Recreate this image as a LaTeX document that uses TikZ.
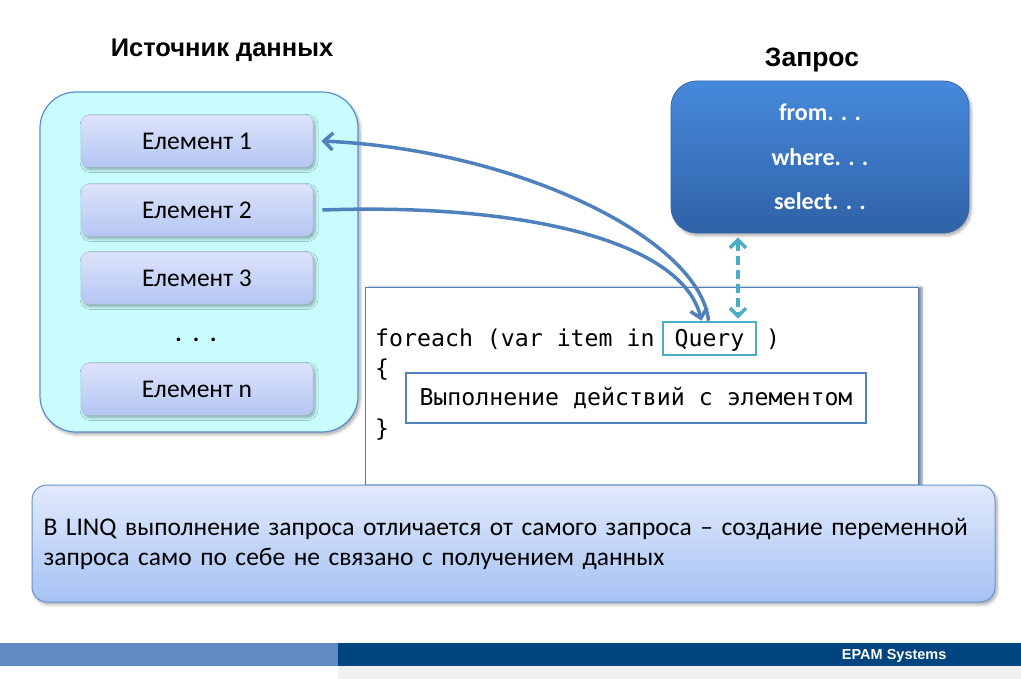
\documentclass[tikz,border=0pt]{standalone}
\usepackage{fontspec}
\setmainfont{Carlito}
\setmonofont{DejaVu Sans Mono}
\newfontfamily\headfont{Liberation Sans}
\usetikzlibrary{arrows.meta,shadows.blur}

\definecolor{srcfill}{HTML}{C9FCFC}
\definecolor{srcedge}{HTML}{5B8FCC}
\definecolor{elemtop}{HTML}{DDE4FB}
\definecolor{elembot}{HTML}{B4C6F3}
\definecolor{elemedge}{HTML}{B9C6EA}
\definecolor{qtop}{HTML}{4789DC}
\definecolor{qbot}{HTML}{2F62A7}
\definecolor{qedge}{HTML}{3567AA}
\definecolor{notetop}{HTML}{E2EAFC}
\definecolor{notebot}{HTML}{A6C2F4}
\definecolor{noteedge}{HTML}{6693D1}
\definecolor{linkblue}{HTML}{4F81BD}
\definecolor{linkteal}{HTML}{4BACC6}
\definecolor{barlight}{HTML}{6289C1}
\definecolor{bardark}{HTML}{00457F}
\definecolor{barstrip}{HTML}{F0F0F0}

\begin{document}
\begin{tikzpicture}[x=1pt,y=-1pt,
  softshadow/.style={blur shadow={shadow xshift=2pt,shadow yshift=-2.5pt,
      shadow blur radius=3pt,shadow blur steps=6,shadow opacity=35}},
  heading/.style={font=\headfont\bfseries\fontsize{25.5}{30}\selectfont},
  elem/.style={rounded corners=8pt,minimum width=232pt,minimum height=52pt,
      top color=elemtop,bottom color=elembot,draw=elemedge,line width=0.6pt,
      font=\fontsize{25.5}{28}\selectfont,softshadow},
  codetext/.style={inner sep=0pt,font=\ttfamily\fontsize{23.2}{27}\selectfont},
  link/.style={draw=linkblue,line width=3.5pt,
      -{Straight Barb[length=9pt,width=17pt]}},
]
\useasboundingbox (0,0) rectangle (1021,679);

% data source
\node[heading] (srctitle) at (222,50) {Источник данных};
\node[rounded corners=36pt,minimum width=318pt,minimum height=340pt,
      fill=srcfill,draw=srcedge,line width=1.2pt,softshadow] (src) at (199,262) {};
\node[elem] (el1) at (197,141) {Елемент 1};
\node[elem] (el2) at (197,210) {Елемент 2};
\node[elem] (el3) at (197,278) {Елемент 3};
\node[font=\bfseries\fontsize{24}{26}\selectfont] (dots) at (196,340) {.\hspace{11pt}.\hspace{11pt}.};
\node[elem] (eln) at (197,389) {Елемент n};

% query
\node[font=\headfont\bfseries\fontsize{26.5}{30}\selectfont] (qtitle) at (812,60) {Запрос};
\node[rounded corners=26pt,minimum width=298pt,minimum height=152pt,
      top color=qtop,bottom color=qbot,draw=qedge,line width=0.8pt,softshadow,
      text=white,align=center,font=\bfseries\fontsize{24}{44.5}\selectfont]
      (qry) at (820,157) {from. . .\\where. . .\\select. . .};

% code listing
\node[minimum width=553pt,minimum height=215pt,fill=white,draw=linkblue,
      line width=0.8pt,
      blur shadow={shadow xshift=4pt,shadow yshift=0pt,shadow blur radius=2pt,
      shadow blur steps=5,shadow opacity=45}] (code) at (641.5,394.5) {};
\node[codetext,anchor=base west] (line1) at (375,346) {foreach (var item in};
\node[codetext,draw=linkteal,line width=2.6pt,minimum width=93pt,
      inner ysep=3.3pt,text height=20.7pt,text depth=5.7pt,anchor=base]
      (qbox) at (709.5,346) {Query};
\node[codetext,anchor=base west] (close) at (766,346) {)};
\node[codetext] (lbrace) at (382,370) {\{};
\node[codetext] (rbrace) at (382,430) {\}};
\node[codetext,draw=linkblue,line width=2.6pt,minimum width=460pt,
      minimum height=50pt,fill=white] (act) at (636,398) {Выполнение действий с элементом};

% links between the parts
\draw[link] ([xshift=-1pt]qbox.north) .. controls (700,240) and (520,150) .. ([xshift=8pt]el1.east);
\draw[link] ([xshift=9pt]el2.east) .. controls (520,203) and (682,240) .. ([xshift=-8pt]qbox.north);
\draw[draw=linkteal,line width=3.5pt,dash pattern=on 9pt off 5pt,
      {Straight Barb[length=8pt,width=16pt]}-{Straight Barb[length=8pt,width=16pt]},
      shorten <=4pt,shorten >=2pt]
      ([xshift=-82pt]qry.south) -- ([xshift=28.5pt]qbox.north);

% note
\node[rounded corners=15pt,minimum width=963pt,minimum height=117pt,
      top color=notetop,bottom color=notebot,draw=noteedge,line width=1pt,
      softshadow,text width=940pt,align=left,
      font=\fontsize{25.5}{30}\selectfont] (note) at (513.5,543.5)
      {В LINQ выполнение запроса отличается от самого запроса – создание переменной\\
       запроса само по себе не связано с получением данных};

% footer bar
\fill[barlight] (0,643) rectangle (338,666);
\fill[bardark] (338,643) rectangle (1021,666);
\fill[barstrip] (338,666) rectangle (1021,679);
\node[anchor=east,text=white,font=\headfont\bfseries\fontsize{14.5}{16}\selectfont]
      (brand) at (950,656) {EPAM Systems};
\end{tikzpicture}
\end{document}
